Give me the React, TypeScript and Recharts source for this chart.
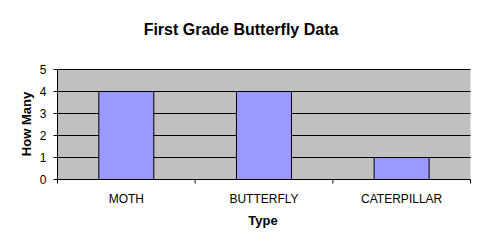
import React from "react";
import {
  BarChart,
  Bar,
  XAxis,
  YAxis,
  CartesianGrid,
} from "recharts";

const categories = ["MOTH", "BUTTERFLY", "CATERPILLAR"];
const howMany = [4, 4, 1];
const yTicks = [0, 1, 2, 3, 4, 5];

const data = categories.map((type, i) => ({ type, count: howMany[i] }));

const FONT = '"Liberation Sans", Arial, sans-serif';
const CHART_W = 480;
const CHART_H = 250;
const MARGIN = { top: 69.5, right: 9.5, left: 17.5, bottom: 20.5 };
const Y_AXIS_W = 40;

// category label plus the Excel-style tick marks on the band edges
function TypeTick(props: any) {
  const { x, y, payload, index, visibleTicksCount } = props;
  const count = visibleTicksCount || categories.length;
  const plotW = CHART_W - MARGIN.left - MARGIN.right - Y_AXIS_W;
  const bw = plotW / count;
  const axisY = y - 15;
  const left = x - bw / 2;
  return (
    <g>
      <line x1={left} x2={left} y1={axisY} y2={axisY + 4} stroke="#000" />
      {index === count - 1 && (
        <line x1={left + bw} x2={left + bw} y1={axisY} y2={axisY + 4} stroke="#000" />
      )}
      <text
        x={x}
        y={y}
        dy="0.71em"
        textAnchor="middle"
        fill="#000"
        fontSize={12}
        fontFamily={FONT}
      >
        {payload.value}
      </text>
    </g>
  );
}

export default function App() {
  return (
    <div
      style={{
        position: "absolute",
        left: 0,
        top: 0,
        width: CHART_W,
        height: CHART_H,
        background: "#fff",
        fontFamily: FONT,
      }}
    >
      <BarChart
        width={CHART_W}
        height={CHART_H}
        data={data}
        margin={MARGIN}
        barCategoryGap="30%"
      >
        <CartesianGrid vertical={false} stroke="#000" fill="#C0C0C0" />
        <XAxis
          dataKey="type"
          interval={0}
          tickLine={false}
          tickSize={4}
          tickMargin={11}
          axisLine={{ stroke: "#000" }}
          tick={<TypeTick />}
          height={50}
        />
        <XAxis
          xAxisId="top"
          orientation="top"
          tick={false}
          tickLine={false}
          axisLine={{ stroke: "#808080" }}
          height={0}
        />
        <YAxis
          domain={[0, 5]}
          ticks={yTicks}
          interval={0}
          tickSize={4}
          tickMargin={7}
          tickLine={{ stroke: "#000" }}
          axisLine={{ stroke: "#000" }}
          tick={{ fill: "#000", fontSize: 12, fontFamily: FONT }}
          width={Y_AXIS_W}
        />
        <YAxis
          yAxisId="right"
          orientation="right"
          tick={false}
          tickLine={false}
          axisLine={{ stroke: "#808080" }}
          width={0}
        />
        <Bar
          dataKey="count"
          fill="#9999FF"
          stroke="#000"
          strokeWidth={1}
          isAnimationActive={false}
        />
      </BarChart>
      <svg
        width={CHART_W}
        height={CHART_H}
        style={{ position: "absolute", left: 0, top: 0, pointerEvents: "none" }}
      >
        <text
          x={241}
          y={35}
          textAnchor="middle"
          fontFamily={FONT}
          fontSize={16}
          fontWeight="bold"
          fill="#000"
        >
          First Grade Butterfly Data
        </text>
        <text
          x={263}
          y={225}
          textAnchor="middle"
          fontFamily={FONT}
          fontSize={13}
          fontWeight="bold"
          fill="#000"
        >
          Type
        </text>
        <text
          x={31}
          y={124}
          textAnchor="middle"
          transform="rotate(-90 31 124)"
          fontFamily={FONT}
          fontSize={13}
          fontWeight="bold"
          fill="#000"
        >
          How Many
        </text>
      </svg>
    </div>
  );
}
